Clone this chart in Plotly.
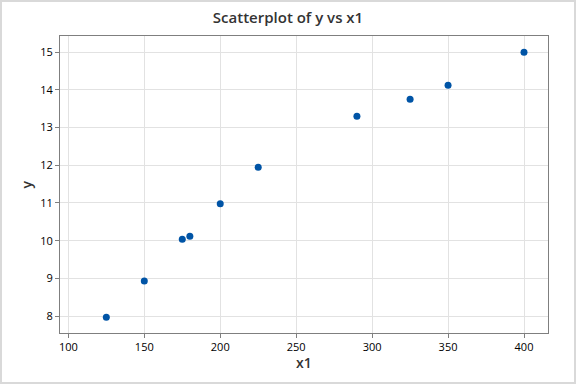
import plotly.graph_objects as go

x1 = [125, 150, 175, 180, 200, 225, 290, 325, 350, 400]
y = [7.97, 8.93, 10.04, 10.12, 10.98, 11.95, 13.30, 13.75, 14.12, 15.00]
x_ticks = [100, 150, 200, 250, 300, 350, 400]
y_ticks = [8, 9, 10, 11, 12, 13, 14, 15]

FONT = "Open Sans, Noto Sans, sans-serif"
W, H = 576, 384
L, R, T, B = 60, 28, 36, 51
PW, PH = W - L - R, H - T - B

fig = go.Figure()
fig.add_trace(go.Scatter(
    x=x1, y=y, mode="markers",
    marker=dict(color="#0054A6", size=7, symbol="circle"),
    hoverinfo="x+y",
))

axis_common = dict(
    showgrid=True, gridcolor="#E2E2E2", gridwidth=1,
    showline=True, linecolor="#7F7F7F", linewidth=1, mirror=True,
    ticks="outside", ticklen=4, tickcolor="#7F7F7F",
    tickfont=dict(family=FONT, size=11, color="#000000"),
    zeroline=False, automargin=False,
)

fig.update_layout(
    width=W, height=H,
    paper_bgcolor="white", plot_bgcolor="white",
    margin=dict(l=L, r=R, t=T, b=B, autoexpand=False),
    showlegend=False,
    title=dict(
        text="Scatterplot of y vs x1",
        x=0.5, xanchor="center", y=1 - 18 / H, yanchor="middle",
        font=dict(family=FONT, size=15, color="#333333", weight=600),
    ),
    xaxis=dict(range=[94.5, 415.8], tickvals=x_ticks, **axis_common),
    yaxis=dict(range=[7.55, 15.43], tickvals=y_ticks, **axis_common),
    annotations=[
        dict(text="x1", xref="paper", yref="paper", x=0.5, y=-(362 - (T + PH)) / PH,
             xanchor="center", yanchor="middle", showarrow=False,
             font=dict(family=FONT, size=14, color="#333333", weight=600)),
        dict(text="y", xref="paper", yref="paper", x=-(L - 26) / PW, y=0.5, textangle=-90,
             xanchor="center", yanchor="middle", showarrow=False,
             font=dict(family=FONT, size=14, color="#333333", weight=600)),
    ],
    shapes=[dict(type="rect", xref="paper", yref="paper",
                 x0=-(L - 1) / PW, x1=1 + (R - 1) / PW, y0=-(B - 1) / PH, y1=1 + (T - 1) / PH,
                 line=dict(color="#D9D9D9", width=2), fillcolor="rgba(0,0,0,0)", layer="below")],
)

fig.write_html("out.html", config={"displayModeBar": False},
               post_script="document.body.style.margin='0';")
